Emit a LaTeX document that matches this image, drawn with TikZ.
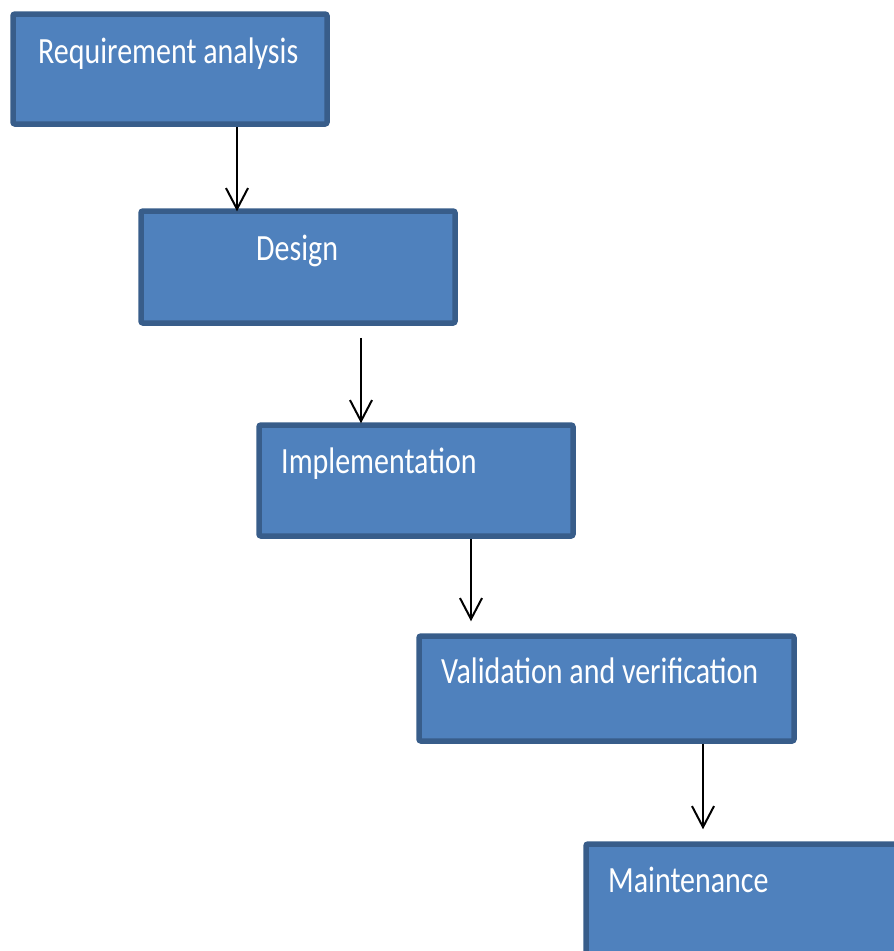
\documentclass[tikz,border=0pt]{standalone}
\usepackage{fontspec}
\setmainfont{Carlito}[FakeStretch=0.81]
\usetikzlibrary{arrows.meta}

\definecolor{boxfill}{HTML}{4F81BD}
\definecolor{boxline}{HTML}{385D8A}

\tikzset{
  phase/.style={draw=boxline, fill=boxfill, line width=5.5pt,
    rounded corners=2pt, inner sep=0pt, anchor=center},
  lbl/.style={text=white, inner sep=0pt, anchor=base west,
    font=\fontsize{37}{44}\selectfont},
  flow/.style={line width=2pt, -{Straight Barb[length=21pt,width=22pt,line width=2pt]}}
}

\begin{document}
\begin{tikzpicture}[x=1pt, y=-1pt]
  \useasboundingbox (0,0) rectangle (894,951);
  \clip (0,0) rectangle (894,951);

  % phase boxes
  \node[phase, minimum width=314pt, minimum height=110pt] (ra) at (170,69) {};
  \node[phase, minimum width=314pt, minimum height=112pt] (ds) at (298,267) {};
  \node[phase, minimum width=314pt, minimum height=111pt] (im) at (416,480.5) {};
  \node[phase, minimum width=375pt, minimum height=105pt] (vv) at (606.5,688.5) {};
  \node[phase, minimum width=380pt, minimum height=130pt] (mt) at (776,909) {};

  % phase titles
  \node[lbl] (ra-t) at (38,63) {Requirement analysis};
  \node[lbl] (ds-t) at (256,260) {Design};
  \node[lbl] (im-t) at (281,473) {Implementation};
  \node[lbl] (vv-t) at (441,683) {Validation and verification};
  \node[lbl] (mt-t) at (608,892) {Maintenance};

  % connectors between phases
  \draw[flow] ([xshift=67pt]ra.south) -- ([xshift=-61pt,yshift=-3pt]ds.north);
  \draw[flow] ([xshift=63pt,yshift=-12pt]ds.south) -- ([xshift=-55pt,yshift=-1pt]im.north);
  \draw[flow] ([xshift=55pt]im.south) -- ([xshift=-135.5pt,yshift=12pt]vv.north);
  \draw[flow] ([xshift=96.5pt]vv.south) -- ([xshift=-73pt,yshift=12pt]mt.north);
\end{tikzpicture}
\end{document}
